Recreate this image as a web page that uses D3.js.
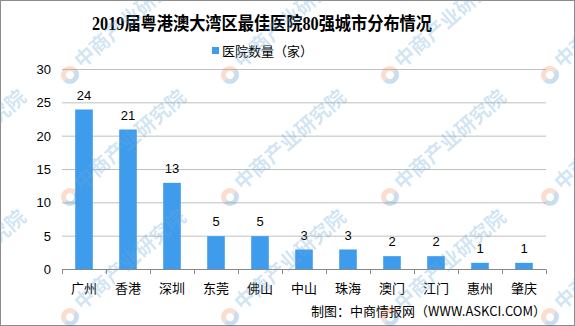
<!DOCTYPE html>
<html>
<head>
<meta charset="utf-8">
<script src="https://cdn.jsdelivr.net/npm/d3@7"></script>
<style>
  body { margin: 0; background: #fff; }
  svg { display: block; }
</style>
</head>
<body>
<div id="chart"></div>
<script>
    // chart data
    const cities = ['广州', '香港', '深圳', '东莞', '佛山', '中山', '珠海', '澳门', '江门', '惠州', '肇庆'];
    const hospitals = [24, 21, 13, 5, 5, 3, 3, 2, 2, 1, 1];
    const yTicks = [0, 5, 10, 15, 20, 25, 30];
    const title = '2019届粤港澳大湾区最佳医院80强城市分布情况';
    const legendLabel = '医院数量（家）';
    const source = '制图：中商情报网（WWW.ASKCI.COM）';

    const width = 575;
    const height = 326;
    const barColor = '#3f9ced';
    const font = '"Noto Sans CJK SC", "Liberation Sans", sans-serif';

    const svg = d3.select('#chart')
        .append('svg')
        .attr('width', width)
        .attr('height', height);

    // outer border
    svg.append('rect')
        .attr('x', 0.5).attr('y', 0.5)
        .attr('width', width - 1).attr('height', height - 1)
        .attr('fill', '#fff')
        .attr('stroke', '#8c8c8c');

    const x = d3.scaleBand()
        .domain(cities)
        .range([62, 546])
        .paddingInner(0.6)
        .paddingOuter(0.3);

    const y = d3.scaleLinear()
        .domain([0, 30])
        .range([269.5, 69.5]);

    // gridlines
    svg.append('g')
        .selectAll('line')
        .data(yTicks.slice(1))
        .join('line')
        .attr('x1', 62).attr('x2', 546)
        .attr('y1', d => y(d)).attr('y2', d => y(d))
        .attr('stroke', '#bfbfbf')
        .attr('stroke-width', 1);

    // y labels
    svg.append('g')
        .selectAll('text')
        .data(yTicks)
        .join('text')
        .attr('x', 51)
        .attr('y', d => y(d))
        .attr('dy', '0.35em')
        .attr('text-anchor', 'end')
        .attr('font-family', '"Liberation Sans", Arial, sans-serif')
        .attr('font-size', 13)
        .attr('fill', '#000')
        .text(d => d);

    // bars
    svg.append('g')
        .selectAll('rect')
        .data(hospitals)
        .join('rect')
        .attr('x', (d, i) => x(cities[i]))
        .attr('width', x.bandwidth())
        .attr('y', d => y(d))
        .attr('height', d => y(0) - y(d))
        .attr('fill', barColor);

    // value labels
    svg.append('g')
        .selectAll('text')
        .data(hospitals)
        .join('text')
        .attr('x', (d, i) => x(cities[i]) + x.bandwidth() / 2)
        .attr('y', d => y(d) - 10)
        .attr('text-anchor', 'middle')
        .attr('font-family', '"Liberation Sans", Arial, sans-serif')
        .attr('font-size', 13)
        .text(d => d);

    // x axis
    const xAxis = svg.append('g');
    xAxis.append('line')
        .attr('x1', 62).attr('x2', 546)
        .attr('y1', 269.5).attr('y2', 269.5)
        .attr('stroke', '#888');
    const step = (546 - 62) / cities.length;
    xAxis.selectAll('line.tick')
        .data(d3.range(cities.length + 1))
        .join('line')
        .attr('class', 'tick')
        .attr('x1', d => Math.round(62 + d * step) + 0.5)
        .attr('x2', d => Math.round(62 + d * step) + 0.5)
        .attr('y1', 269.5).attr('y2', 274)
        .attr('stroke', '#888');
    xAxis.selectAll('text')
        .data(cities)
        .join('text')
        .attr('x', d => x(d) + x.bandwidth() / 2)
        .attr('y', 293)
        .attr('text-anchor', 'middle')
        .attr('font-family', font)
        .attr('font-size', 13)
        .text(d => d);

    // title
    svg.append('text')
        .attr('x', 92)
        .attr('y', 30)
        .attr('textLength', 340)
        .attr('lengthAdjust', 'spacingAndGlyphs')
        .attr('font-family', '"Liberation Serif", "Noto Sans CJK SC", serif')
        .attr('font-weight', 'bold')
        .attr('font-size', 18)
        .text(title);

    // legend
    svg.append('rect')
        .attr('x', 212).attr('y', 47)
        .attr('width', 7).attr('height', 7)
        .attr('fill', barColor);
    svg.append('text')
        .attr('x', 222)
        .attr('y', 56)
        .attr('textLength', 91)
        .attr('lengthAdjust', 'spacingAndGlyphs')
        .attr('font-family', font)
        .attr('font-size', 13)
        .text(legendLabel);

    // source
    svg.append('text')
        .attr('x', 546)
        .attr('y', 316)
        .attr('text-anchor', 'end')
        .attr('font-family', font)
        .attr('font-size', 13)
        .text(source);

    // watermark
    const wmX = [-90, 70, 230, 390, 550];
    const wmY = [75, 197, 317];
    const wm = svg.append('g').attr('opacity', 0.3);
    wmX.forEach(wx => {
        wmY.forEach(wy => {
            const gg = wm.append('g').attr('transform', `translate(${wx},${wy})`);
            gg.append('path')
                .attr('d', d3.arc()({innerRadius: 4, outerRadius: 9, startAngle: Math.PI * 0.25, endAngle: Math.PI * 1.25}))
                .attr('fill', '#4a90c8');
            gg.append('path')
                .attr('d', d3.arc()({innerRadius: 4, outerRadius: 9, startAngle: -Math.PI * 0.75, endAngle: Math.PI * 0.25}))
                .attr('fill', '#f08a5d');
            gg.append('text')
                .attr('transform', 'translate(12,-6) rotate(-41)')
                .attr('font-family', font)
                .attr('font-weight', 'bold')
                .attr('font-size', 20)
                .attr('fill', '#6aa7d8')
                .text('中商产业研究院');
        });
    });
</script>
</body>
</html>
